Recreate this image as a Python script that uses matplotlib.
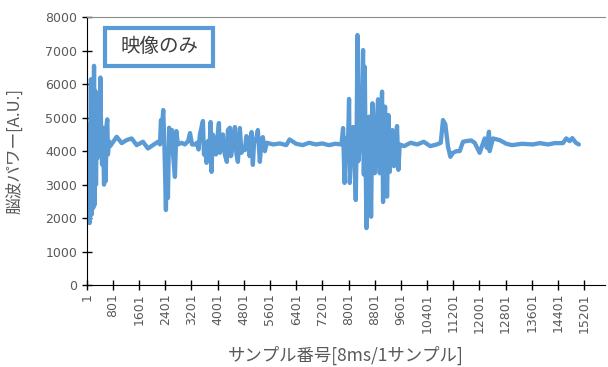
import matplotlib.pyplot as plt
from matplotlib.patches import Rectangle

plt.rcParams['font.family'] = ['Noto Sans CJK JP', 'DejaVu Sans']

# ---------------- DATA ----------------
sample_no = [
    1, 20, 40, 60, 90, 110, 130, 150, 175, 200, 225, 245, 265, 285, 305, 330,
    360, 390, 420, 445, 470, 500, 530, 555, 580, 610, 630, 650, 680, 720,
    917, 1070, 1222, 1375, 1528, 1720, 1873, 2025, 2178, 2240,
    2270, 2300, 2340, 2380, 2422, 2440, 2483, 2520, 2560, 2605, 2640, 2697, 2740, 2788,
    2900, 3000, 3100, 3158, 3220, 3310,
    3369, 3420, 3460, 3512, 3552, 3585, 3613, 3665, 3704, 3750, 3787, 3817, 3850, 3888,
    3949, 3990, 4041, 4070, 4102, 4163, 4220, 4285, 4316, 4377, 4410, 4438, 4490, 4529,
    4580, 4621, 4682, 4730, 4773, 4834, 4880, 4926, 4980, 5039, 5078, 5120, 5170, 5231,
    5292, 5340, 5384, 5445, 5506,
    5700, 5900, 6100, 6200, 6400, 6600, 6800, 7000, 7200, 7400, 7600, 7786,
    7835, 7880, 7930, 7975, 8018, 8040, 8090, 8141, 8180, 8223, 8250, 8274, 8300,
    8345, 8400, 8446, 8470, 8498, 8520, 8549, 8590, 8630, 8660, 8691, 8732, 8770,
    8803, 8850, 8904, 8955, 8990, 9026, 9057, 9090, 9118, 9150, 9179, 9220, 9261,
    9300, 9342, 9393, 9440, 9484, 9526, 9566,
    9700, 9900, 10100, 10300, 10500, 10700, 10820, 10888, 10960, 11041, 11114,
    11193, 11300, 11398, 11499, 11602, 11750, 11856, 12009, 12100, 12162, 12230,
    12293, 12314, 12415, 12619, 12824, 13000, 13300, 13638, 13842, 14100, 14300,
    14554, 14655, 14760, 14838, 14950, 15040,
]
eeg_power = [
    4100, 4800, 3500, 4600, 1850, 3800, 6150, 2100, 5000, 2300, 6550, 2400, 5800, 3000, 4900, 3800,
    4500, 4000, 6200, 4200, 3600, 4700, 3000, 4000, 3100, 4800, 4950, 3900, 4300, 4150,
    4430, 4240, 4330, 4380, 4180, 4280, 4080, 4180, 4280, 4200,
    4930, 4700, 5230, 4000, 2240, 3500, 2600, 4700, 4300, 4630, 3900, 3230, 4600, 4200,
    4250, 4200, 4300, 4540, 4200, 4200,
    4250, 4050, 4500, 4720, 4900, 3900, 4100, 3650, 4300, 3950, 4870, 3380, 4500, 4400,
    3900, 4350, 4840, 3950, 4100, 4500, 3900, 3680, 4630, 4700, 3850, 4000, 4450, 4720,
    3900, 3680, 4690, 3950, 4100, 4030, 4450, 4400, 3850, 4570, 3590, 4350, 4300, 4630,
    3680, 4300, 4420, 4000, 4250,
    4200, 4230, 4180, 4350, 4220, 4180, 4250, 4200, 4230, 4180, 4220, 4200,
    4690, 3050, 4400, 3800, 5560, 3050, 4300, 4720, 3900, 2540, 4500, 7470, 3700,
    4100, 5200, 7020, 3300, 6520, 4200, 1700, 4400, 5030, 3800, 2040, 5430, 3800,
    3340, 4600, 5550, 3340, 4700, 5780, 2480, 4500, 5330, 3900, 2640, 5080, 3380,
    4500, 4630, 3550, 4300, 4750, 3440, 4200,
    4150, 4250, 4200, 4280, 4150, 4200, 4250, 4930, 4800, 4130, 3830,
    3950, 4000, 4000, 4280, 4300, 4320, 4250, 3950, 4200, 4380, 4100,
    4580, 4000, 4380, 4330, 4220, 4180, 4220, 4200, 4240, 4200, 4240,
    4240, 4380, 4300, 4390, 4250, 4200,
]

x_ticks = list(range(1, 15202, 800))
y_ticks = list(range(0, 8001, 1000))

# ---------------- PLOT ----------------
text_gray = '#595959'
line_blue = '#5B9BD5'

fig = plt.figure(figsize=(6.08, 3.67), dpi=100)
ax = fig.add_axes([0.1426, 0.2234, 0.852, 0.7295])

ax.plot(sample_no, eeg_power, color=line_blue, linewidth=3.1,
        solid_joinstyle='round', solid_capstyle='round')

ax.set_xlim(1, 15830)
ax.set_ylim(0, 8000)
ax.set_xticks(x_ticks)
ax.set_xticklabels([str(t) for t in x_ticks], rotation=90,
                   family='DejaVu Sans')
ax.set_yticks(y_ticks)
ax.set_yticklabels([str(t) for t in y_ticks], family='DejaVu Sans')

ax.tick_params(axis='both', direction='inout', length=7.5, width=1,
               colors='black', labelcolor=text_gray, labelsize=9)
ax.tick_params(axis='x', pad=2)
ax.tick_params(axis='y', pad=3)

ax.spines['right'].set_visible(False)
ax.spines['top'].set_color('#8c8c8c')
ax.spines['left'].set_color('black')
ax.spines['bottom'].set_color('black')

ax.set_xlabel('サンプル番号[8ms/1サンプル]', color=text_gray, fontsize=12.5)
ax.xaxis.set_label_coords(0.5, -0.2615)
ax.xaxis.label.set_va('center')
ax.set_ylabel('脳波パワー[A.U.]', color=text_gray, fontsize=12)
ax.yaxis.set_label_coords(-0.140, 0.5)
ax.yaxis.label.set_va('center')

# label box (pixel positions of the reference)
W, H = 608, 367
fig.patches.append(Rectangle((105 / W, 1 - 66 / H), 108 / W, 38 / H,
                             transform=fig.transFigure, facecolor='white',
                             edgecolor=line_blue, linewidth=3, zorder=5))
fig.text(159 / W, 1 - 47 / H, '映像のみ', fontsize=14, color='#404040',
         ha='center', va='center', zorder=6)

fig.savefig('out.png', dpi=100)
